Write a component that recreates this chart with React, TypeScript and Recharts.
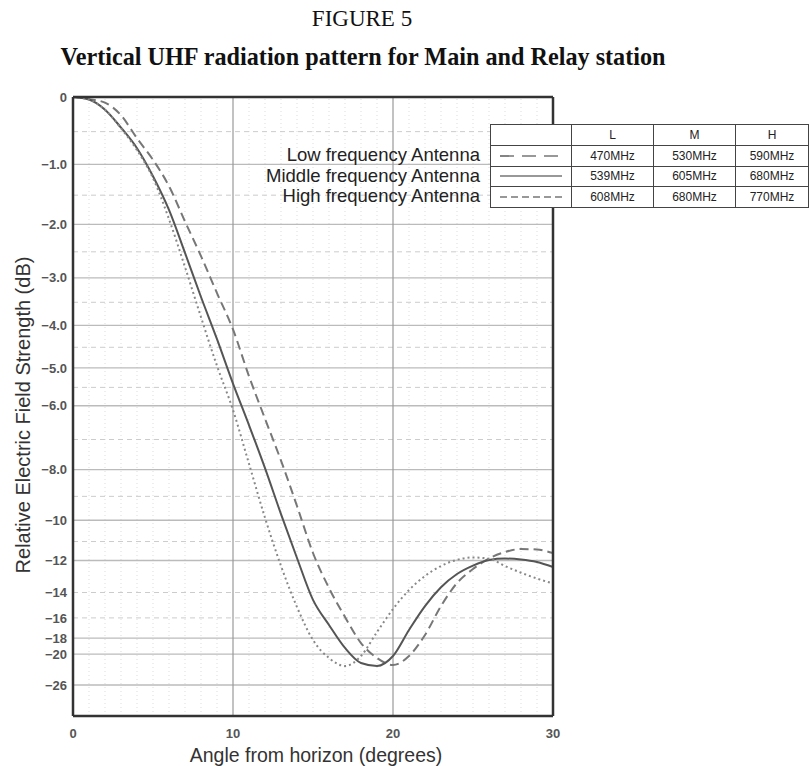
import { LineChart, Line, XAxis, YAxis, ReferenceLine } from "recharts";

// angle from horizon, degrees
const angles = [
  0, 1, 2, 3, 4, 5, 6, 7, 8, 9, 10, 11, 12, 13, 14, 15,
  16, 17, 18, 19, 20, 21, 22, 23, 24, 25, 26, 27, 28, 29, 30,
];

// relative field strength, dB
const lowDb = [
  0, -0.03, -0.08, -0.26, -0.6, -0.93, -1.35, -1.95, -2.58, -3.31, -4.09,
  -5.21, -6.37, -7.69, -9.39, -11.59, -13.69, -15.92, -18.57, -20.57, -21.68,
  -20.27, -17.66, -15.01, -13.36, -12.49, -11.89, -11.54, -11.38, -11.41, -11.59,
];
const midDb = [
  0, -0.035, -0.18, -0.44, -0.75, -1.19, -1.75, -2.52, -3.39, -4.31, -5.4,
  -6.56, -7.95, -9.73, -11.86, -14.54, -16.65, -19.18, -21.35, -21.85, -20.27,
  -17.14, -15.01, -13.64, -12.79, -12.29, -11.97, -11.89, -11.94, -12.08, -12.37,
];
const highDb = [
  0, -0.035, -0.18, -0.45, -0.78, -1.22, -1.91, -2.79, -3.82, -4.95, -6.12,
  -7.8, -9.89, -12.31, -15.09, -18.22, -20.57, -21.85, -20.27, -17.35, -15.25,
  -13.83, -12.91, -12.31, -11.96, -11.83, -11.9, -12.31, -12.71, -13.07, -13.39,
];

const yTickDb = [0, -1, -2, -3, -4, -5, -6, -8, -10, -12, -14, -16, -18, -20, -26];
const yTickLabels = [
  "0", "−1.0", "−2.0", "−3.0", "−4.0", "−5.0", "−6.0", "−8.0",
  "−10", "−12", "−14", "−16", "−18", "−20", "−26",
];
const majorGridDb = [-1, -2, -3, -4, -5, -6, -8, -10, -12, -18, -20, -26];
const minorGridDb = [-0.5, -1.5, -2.5, -3.5, -4.5, -5.5, -7, -9, -11, -14, -16];
const xTicks = [0, 10, 20, 30];
const xMajorGrid = [10, 20];

const antennaNames = ["Low frequency Antenna", "Middle frequency Antenna", "High frequency Antenna"];
const bandHeaders = ["L", "M", "H"];
const bandFreqs = [
  ["470MHz", "530MHz", "590MHz"],
  ["539MHz", "605MHz", "680MHz"],
  ["608MHz", "680MHz", "770MHz"],
];
const legendDash = ["14 8", "", "7 4"];

// the axis is linear in field amplitude
const amp = (db: number) => Math.pow(10, db / 20);

const data = angles.map((a, i) => ({
  angle: a,
  low: amp(lowDb[i]),
  mid: amp(midDb[i]),
  high: amp(highDb[i]),
}));
const yTicks = yTickDb.map(amp);
const xMinorGrid = angles.filter((a) => a > 0 && a < 30 && a % 10 !== 0);

const fmtY = (v: number) => {
  const i = yTicks.findIndex((t) => Math.abs(t - v) < 1e-9);
  return i >= 0 ? yTickLabels[i] : "";
};

const sans = "'Liberation Sans', Arial, sans-serif";
const serif = "'Liberation Serif', 'Times New Roman', serif";

const YTitle = () => (
  <text
    x={23}
    y={415}
    transform="rotate(-90 23 415)"
    textAnchor="middle"
    dominantBaseline="central"
    fontFamily={sans}
    fontSize={20}
    fill="#333"
  >
    Relative Electric Field Strength (dB)
  </text>
);

const XTitle = () => (
  <text x={316} y={755} textAnchor="middle" dominantBaseline="central" fontFamily={sans} fontSize={19.5} fill="#333">
    Angle from horizon (degrees)
  </text>
);

export default function App() {
  return (
    <div style={{ position: "absolute", left: 0, top: 0, width: 810, height: 766, background: "#fff" }}>
      <div style={{ position: "absolute", left: 0, width: 724, top: 6, textAlign: "center", fontFamily: serif, fontSize: 23, color: "#111" }}>
        FIGURE 5
      </div>
      <div style={{ position: "absolute", left: 0, width: 726, top: 43, textAlign: "center", fontFamily: serif, fontSize: 24.2, fontWeight: "bold", color: "#111" }}>
        Vertical UHF radiation pattern for Main and Relay station
      </div>
      <div style={{ position: "absolute", left: 0, top: 0 }}>
        <LineChart width={810} height={766} data={data} margin={{ top: 97, right: 257, bottom: 0, left: 18 }}>
          <XAxis
            dataKey="angle"
            type="number"
            domain={[0, 30]}
            ticks={xTicks}
            axisLine={false}
            tickLine={false}
            tickSize={0}
            tickMargin={13}
            height={50}
            tick={{ fill: "#555", fontSize: 13, fontWeight: "bold", fontFamily: sans }}
            label={<XTitle />}
          />
          <YAxis
            type="number"
            domain={[0, 1]}
            ticks={yTicks}
            interval={0}
            tickFormatter={fmtY}
            axisLine={false}
            tickLine={false}
            tickSize={0}
            tickMargin={6}
            width={55}
            tick={{ fill: "#555", fontSize: 13, fontWeight: "bold", fontFamily: sans }}
            label={<YTitle />}
          />
          {xMinorGrid.map((x) => (
            <ReferenceLine key={"vx" + x} x={x} stroke="#ddd" strokeDasharray="1 3" />
          ))}
          {minorGridDb.map((d) => (
            <ReferenceLine key={"hm" + d} y={amp(d)} stroke="#ccc" strokeDasharray="5 4" />
          ))}
          {majorGridDb.map((d) => (
            <ReferenceLine key={"hM" + d} y={amp(d)} stroke="#bbb" strokeWidth={1.3} />
          ))}
          {xMajorGrid.map((x) => (
            <ReferenceLine key={"vM" + x} x={x} stroke="#999" strokeWidth={1.2} />
          ))}
          <Line dataKey="low" type="monotone" stroke="#777" strokeWidth={2} strokeDasharray="9 5" dot={false} isAnimationActive={false} />
          <Line dataKey="mid" type="monotone" stroke="#555" strokeWidth={2} dot={false} isAnimationActive={false} />
          <Line dataKey="high" type="monotone" stroke="#888" strokeWidth={2} strokeDasharray="2 3" dot={false} isAnimationActive={false} />
          <ReferenceLine x={0} stroke="#333" strokeWidth={2.5} />
          <ReferenceLine x={30} stroke="#333" strokeWidth={2.5} />
          <ReferenceLine y={0} stroke="#333" strokeWidth={2.5} />
          <ReferenceLine y={1} stroke="#333" strokeWidth={2.5} />
        </LineChart>
      </div>
      {antennaNames.map((name, i) => (
        <div
          key={name}
          style={{
            position: "absolute",
            right: 810 - 480,
            top: 145 + i * 20.7,
            height: 20.7,
            lineHeight: "20.7px",
            fontFamily: sans,
            fontSize: 18.5,
            color: "#222",
            whiteSpace: "nowrap",
          }}
        >
          {name}
        </div>
      ))}
      <table
        style={{
          position: "absolute",
          left: 490,
          top: 124,
          width: 318,
          borderCollapse: "collapse",
          background: "#fff",
          fontFamily: sans,
          fontSize: 12,
          color: "#222",
          tableLayout: "fixed",
        }}
      >
        <colgroup>
          <col style={{ width: 81 }} />
          <col style={{ width: 82 }} />
          <col style={{ width: 82 }} />
          <col style={{ width: 73 }} />
        </colgroup>
        <tbody>
          <tr style={{ height: 21 }}>
            <td style={{ border: "1px solid #444", padding: 0 }} />
            {bandHeaders.map((h) => (
              <td key={h} style={{ border: "1px solid #444", padding: 0, textAlign: "center" }}>{h}</td>
            ))}
          </tr>
          {bandFreqs.map((row, i) => (
            <tr key={i} style={{ height: 20.5 }}>
              <td style={{ border: "1px solid #444", padding: 0, textAlign: "center", lineHeight: 0 }}>
                <svg width={62} height={6}>
                  <line x1={0} y1={3} x2={62} y2={3} stroke="#333" strokeWidth={1.2} strokeDasharray={legendDash[i] || undefined} />
                </svg>
              </td>
              {row.map((f, j) => (
                <td key={j} style={{ border: "1px solid #444", padding: 0, textAlign: "center" }}>{f}</td>
              ))}
            </tr>
          ))}
        </tbody>
      </table>
    </div>
  );
}
